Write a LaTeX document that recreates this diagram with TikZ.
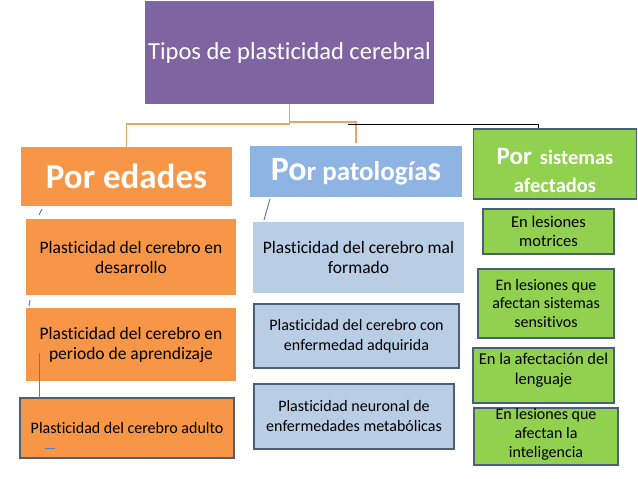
\documentclass[tikz,border=0pt]{standalone}
\usepackage{fontspec}
\setmainfont[Ligatures=NoCommon]{Carlito}
\definecolor{tipos}{HTML}{8064A2}
\definecolor{edad}{HTML}{F79646}
\definecolor{pato}{HTML}{8DB4E2}
\definecolor{patoclaro}{HTML}{B9CDE5}
\definecolor{siste}{HTML}{92D050}
\definecolor{borde}{HTML}{4A6079}
\definecolor{rama}{HTML}{EDA363}
\definecolor{trazo}{HTML}{4F81BD}
\begin{document}
\begin{tikzpicture}
[x=1pt, y=-1pt,
caja/.style={align=center, inner sep=0pt},
titulo/.style={caja, fill=tipos, text=white, font=\fontsize{24.5}{29}\selectfont},
edadcab/.style={caja, fill=edad, text=white, font=\bfseries\fontsize{35}{40}\selectfont},
patocab/.style={caja, fill=pato, text=white, font=\bfseries},
sistecab/.style={caja, fill=siste, draw=borde, line width=1.4pt},
edadbox/.style={caja, fill=edad, font=\fontsize{17.5}{20}\selectfont},
patobox/.style={caja, fill=patoclaro, font=\fontsize{16}{20}\selectfont},
sistebox/.style={caja, fill=siste, draw=borde, line width=1.4pt, font=\fontsize{16.5}{19}\selectfont},
rama/.style={draw=rama, line width=1.5pt},
marca/.style={draw=trazo, line width=1pt}]
\useasboundingbox (0,0) rectangle (638,479);
\node [titulo, minimum width=289, minimum height=103] (tipos) at (289.5,52.5) {Tipos de plasticidad cerebral};
\node [edadcab, minimum width=211, minimum height=59] (edades) at (126.5,176.5) {Por edades};
\node [patocab, minimum width=212, minimum height=51] (patol) at (356,171.5) {{\fontsize{34}{36}\selectfont Po}{\fontsize{27}{36}\selectfont r patología}{\fontsize{34}{36}\selectfont s}};
\node [sistecab, minimum width=163, minimum height=70] (sistemas) at (555,164) {};
\node [caja, text=white, font=\bfseries\fontsize{20.5}{28}\selectfont] (sistxt) at ([yshift=-6pt]sistemas.center) {{\fontsize{25}{28}\selectfont Por}\, sistemas\\afectados};
\node [edadbox, minimum width=210, minimum height=76] (desarrollo) at (131,257) {Plasticidad del cerebro en\\desarrollo};
\node [edadbox, minimum width=210, minimum height=73] (aprendizaje) at (131,344.5) {Plasticidad del cerebro en\\periodo de aprendizaje};
\node [edadbox, draw=borde, line width=1.4pt, minimum width=214, minimum height=60, font=\fontsize{16}{18}\selectfont] (adulto) at (127,428) {Plasticidad del cerebro adulto};
\node [patobox, minimum width=211, minimum height=71, font=\fontsize{17.5}{20}\selectfont] (malformado) at (358.5,257.5) {Plasticidad del cerebro mal\\formado};
\node [patobox, draw=borde, line width=1.4pt, minimum width=205, minimum height=64] (adquirida) at (356.5,336) {Plasticidad del cerebro con\\enfermedad adquirida};
\node [patobox, draw=borde, line width=1.4pt, minimum width=200, minimum height=65] (metabolicas) at (354,416.5) {Plasticidad neuronal de\\enfermedades metabólicas};
\node [sistebox, minimum width=131, minimum height=45] (motrices) at (548.5,231.5) {En lesiones\\motrices};
\node [sistebox, minimum width=136, minimum height=69, font=\fontsize{16}{18.5}\selectfont] (sensitivos) at (546,303.5) {En lesiones que\\afectan sistemas\\sensitivos};
\node [sistebox, minimum width=141, minimum height=55] (lenguaje) at (543.5,375.5) {};
\node [caja, font=\fontsize{16.5}{20}\selectfont] (lenguajetxt) at ([yshift=5pt]lenguaje.center) {En la afectación del\\lenguaje};
\node [sistebox, minimum width=144, minimum height=57] (inteligencia) at (546,436.5) {};
\node [caja, font=\fontsize{16}{19}\selectfont] (inteligenciatxt) at ([yshift=2pt]inteligencia.center) {En lesiones que\\afectan la\\inteligencia};
\coordinate (izq) at (126.5,124);
\coordinate (der) at (356,122);
\coordinate (negro) at (348,124);
\draw [rama] (tipos.south) -- (tipos.south |- izq) -- (izq) -- (edades.north);
\draw [rama] (tipos.south |- der) -- (der) -- ([yshift=3pt]patol.north);
\draw [black, line width=0.9pt] (negro) -| ([xshift=-17pt]sistemas.north);
\draw [marca] (42,209) -- (39,215);
\draw [marca] (30,300) -- (29,306);
\draw [marca] (39,353) -- (39,398);
\draw [marca] (45,448) -- (55,448);
\draw [marca] (270,199) -- (264,220);
\end{tikzpicture}
\end{document}
